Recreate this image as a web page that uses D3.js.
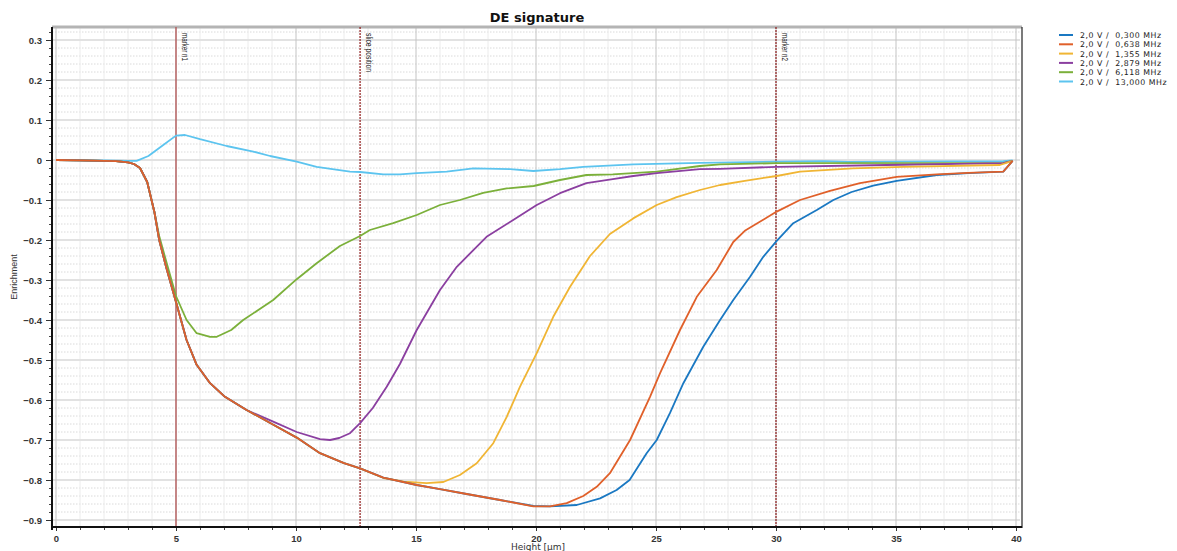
<!DOCTYPE html>
<html>
<head>
<meta charset="utf-8">
<script src="https://cdn.jsdelivr.net/npm/d3@7"></script>
<style>
  html, body { margin: 0; padding: 0; background: #fff; }
  svg { display: block; font-family: "DejaVu Sans", Verdana, sans-serif; }
</style>
</head>
<body>
<svg id="chart" width="1177" height="551"></svg>
<script>
// Enrichment profiles along the height axis, one series per drive frequency.
const seriesNames = [
  "2,0 V /  0,300 MHz",
  "2,0 V /  0,638 MHz",
  "2,0 V /  1,355 MHz",
  "2,0 V /  2,879 MHz",
  "2,0 V /  6,118 MHz",
  "2,0 V /  13,000 MHz"
];
const seriesColors = ["#1a78c2", "#e0602a", "#f0b534", "#8b3fa0", "#7bb03a", "#5cc4ef"];

// [height µm, enrichment]
const f0300 = [
  [0,0],[1,-0.001],[2,-0.002],[2.5,-0.003],[3,-0.006],[3.25,-0.01],[3.5,-0.02],[3.8,-0.055],
  [4.1,-0.13],[4.3,-0.2],[4.6,-0.27],[5,-0.355],[5.44,-0.45],[5.86,-0.512],[6.42,-0.558],
  [7.04,-0.592],[7.94,-0.625],[9,-0.66],[10.03,-0.694],[11,-0.733],[12,-0.758],[12.67,-0.771],
  [13.64,-0.794],[15.03,-0.8125],[16,-0.823],[17.11,-0.835],[18.5,-0.85],[19.89,-0.865],
  [20.58,-0.866],[21.7,-0.8625],[22.67,-0.846],[23.36,-0.825],[23.9,-0.80],[24.61,-0.733],
  [25.03,-0.70],[25.58,-0.633],[26.14,-0.558],[26.97,-0.467],[27.67,-0.40],[28.22,-0.35],
  [28.92,-0.292],[29.47,-0.242],[30.03,-0.202],[30.72,-0.158],[31.7,-0.125],[32.39,-0.10],
  [33.15,-0.08],[34.05,-0.064],[35.03,-0.052],[36.7,-0.0375],[38,-0.033],[39.47,-0.029],[39.86,-0.002]
];
const f0638 = [
  [0,0],[1,-0.001],[2,-0.002],[2.5,-0.003],[3,-0.006],[3.25,-0.01],[3.5,-0.02],[3.8,-0.055],
  [4.1,-0.13],[4.3,-0.2],[4.6,-0.27],[5,-0.355],[5.44,-0.45],[5.86,-0.512],[6.42,-0.558],
  [7.04,-0.592],[7.94,-0.625],[9,-0.66],[10.03,-0.694],[11,-0.733],[12,-0.758],[12.67,-0.771],
  [13.64,-0.794],[15.03,-0.8125],[16,-0.823],[17.11,-0.835],[18.5,-0.85],[19.89,-0.866],
  [20.58,-0.866],[21.28,-0.858],[21.97,-0.84],[22.53,-0.817],[23.08,-0.783],[23.92,-0.70],
  [24.75,-0.592],[25.17,-0.533],[26,-0.425],[26.7,-0.342],[27.53,-0.275],[28.22,-0.205],
  [28.7,-0.177],[30.03,-0.129],[31,-0.10],[32.25,-0.077],[33.5,-0.058],[35.03,-0.042],
  [36.7,-0.036],[38,-0.032],[39.47,-0.029],[39.86,-0.002]
];
const f1355 = [
  [0,0],[1,-0.001],[2,-0.002],[2.5,-0.003],[3,-0.006],[3.25,-0.01],[3.5,-0.02],[3.8,-0.055],
  [4.1,-0.13],[4.3,-0.2],[4.6,-0.27],[5,-0.355],[5.44,-0.45],[5.86,-0.512],[6.42,-0.558],
  [7.04,-0.592],[7.94,-0.625],[9,-0.66],[10.03,-0.694],[11,-0.733],[12,-0.758],[12.67,-0.771],
  [13.64,-0.795],[14.5,-0.804],[15.44,-0.808],[16.14,-0.805],[16.83,-0.7875],[17.53,-0.758],
  [18.22,-0.708],[18.78,-0.642],[19.33,-0.567],[20.03,-0.483],[20.72,-0.392],[21.42,-0.317],
  [22.25,-0.24],[23.08,-0.185],[24.05,-0.146],[25.03,-0.1125],[25.86,-0.093],[26.83,-0.075],
  [27.67,-0.0625],[28.7,-0.052],[30.03,-0.04],[31,-0.029],[33.2,-0.021],[35.3,-0.017],
  [39.33,-0.0125],[39.86,-0.002]
];
const f2879 = [
  [0,0],[1,-0.001],[2,-0.002],[2.5,-0.003],[3,-0.006],[3.25,-0.01],[3.5,-0.02],[3.8,-0.055],
  [4.1,-0.13],[4.3,-0.2],[4.6,-0.27],[5,-0.355],[5.44,-0.45],[5.86,-0.512],[6.42,-0.558],
  [7.04,-0.592],[7.94,-0.625],[9.05,-0.654],[10.03,-0.68],[11,-0.698],[11.42,-0.70],
  [11.8,-0.695],[12.25,-0.683],[12.67,-0.658],[13.2,-0.62],[13.78,-0.567],[14.33,-0.51],
  [15.03,-0.425],[16,-0.325],[16.7,-0.267],[17.94,-0.192],[19.05,-0.15],[20.03,-0.1125],
  [21,-0.083],[22.1,-0.058],[23.2,-0.048],[24.05,-0.04],[25.03,-0.033],[26.83,-0.023],
  [27.67,-0.022],[30.03,-0.017],[34.6,-0.0125],[39.47,-0.008],[39.86,-0.002]
];
const f6118 = [
  [0,0],[1,-0.001],[2,-0.002],[2.5,-0.003],[3,-0.006],[3.25,-0.01],[3.5,-0.02],[3.8,-0.055],
  [4.1,-0.13],[4.3,-0.19],[4.6,-0.255],[5,-0.34],[5.44,-0.40],[5.86,-0.433],[6.42,-0.442],
  [6.7,-0.442],[7.3,-0.425],[7.8,-0.40],[9.05,-0.35],[10.03,-0.298],[10.86,-0.258],
  [11.83,-0.215],[12.67,-0.19],[13.08,-0.175],[14.05,-0.158],[15.03,-0.1375],[16,-0.1125],
  [16.83,-0.10],[17.8,-0.082],[18.78,-0.071],[19.9,-0.065],[21,-0.05],[22.1,-0.0375],
  [23.2,-0.036],[25.03,-0.029],[26.83,-0.015],[27.67,-0.011],[30.03,-0.008],[39.47,-0.007],
  [39.86,-0.002]
];
const f13000 = [
  [0.2,0],[1,-0.001],[2,-0.001],[3,-0.002],[3.36,-0.002],[3.85,0.01],[4.47,0.0375],[5,0.061],
  [5.375,0.0625],[6,0.052],[7.11,0.035],[8.22,0.021],[8.92,0.01],[10.03,-0.004],[10.86,-0.017],
  [12.25,-0.029],[12.67,-0.03],[13.64,-0.036],[14.33,-0.036],[15.03,-0.033],[16.28,-0.029],
  [17.39,-0.021],[18.92,-0.023],[19.89,-0.0275],[21,-0.023],[21.97,-0.017],[24.05,-0.011],
  [26.83,-0.007],[30,-0.004],[32,-0.003],[33,-0.005],[35,-0.004],[39.47,-0.003],[39.86,-0.001]
];
const seriesData = [f0300, f0638, f1355, f2879, f6118, f13000];

// Vertical markers
const markerNames = ["marker n1", "slice position", "marker n2"];
const markerX = [5, 12.67, 30];

const xTicks = [0, 5, 10, 15, 20, 25, 30, 35, 40];
const yTicks = [0.3, 0.2, 0.1, 0, -0.1, -0.2, -0.3, -0.4, -0.5, -0.6, -0.7, -0.8, -0.9];

const svg = d3.select("#chart");
const pLeft = 52, pRight = 1020, pTop = 27, pBottom = 527;

const x = d3.scaleLinear().domain([-1/6, 40 + 1/6]).range([pLeft, pRight]);
const y = d3.scaleLinear().domain([-0.9175, 0.3325]).range([pBottom, pTop]);

const grid = svg.append("g");
// horizontal minor grid (dotted) every 0.02
const yMinor = d3.range(-90, 34, 2).filter(v => v % 10 !== 0).map(v => v / 100);
grid.selectAll(".hmin").data(yMinor).enter().append("line")
  .attr("x1", pLeft).attr("x2", pRight)
  .attr("y1", d => y(d)).attr("y2", d => y(d))
  .attr("stroke", "#dadada").attr("stroke-width", 1).attr("stroke-dasharray", "1.5,1.5");
// vertical minor grid every 1
const xMinor = d3.range(0, 41).filter(v => v % 5 !== 0);
grid.selectAll(".vmin").data(xMinor).enter().append("line")
  .attr("x1", d => x(d)).attr("x2", d => x(d))
  .attr("y1", pTop).attr("y2", pBottom)
  .attr("stroke", "#ececec").attr("stroke-width", 1);
// horizontal major grid
grid.selectAll(".hmaj").data(yTicks).enter().append("line")
  .attr("x1", pLeft).attr("x2", pRight)
  .attr("y1", d => y(d)).attr("y2", d => y(d))
  .attr("stroke", "#e2e2e2").attr("stroke-width", 2);
// vertical major grid
grid.selectAll(".vmaj").data(xTicks).enter().append("line")
  .attr("x1", d => x(d)).attr("x2", d => x(d))
  .attr("y1", pTop).attr("y2", pBottom)
  .attr("stroke", "#c4c4c4").attr("stroke-width", 1);

// frame
svg.append("line").attr("x1", pLeft).attr("x2", pRight + 2).attr("y1", pTop).attr("y2", pTop)
  .attr("stroke", "#b4b4b4").attr("stroke-width", 3);
svg.append("line").attr("x1", pRight + 2).attr("x2", pRight + 2).attr("y1", pTop).attr("y2", pBottom + 1)
  .attr("stroke", "#222").attr("stroke-width", 1.2);

// markers
const mk = svg.append("g");
markerX.forEach((mx, i) => {
  mk.append("line").attr("x1", x(mx)).attr("x2", x(mx)).attr("y1", pTop).attr("y2", pBottom)
    .attr("stroke", i === 0 ? "#b24a4a" : "#8e1a1a").attr("stroke-width", 1.2)
    .attr("stroke-dasharray", i === 0 ? null : "2,1");
  mk.append("text")
    .attr("transform", `translate(${x(mx) + 6},${pTop + 6}) rotate(90)`)
    .attr("font-family", "'Liberation Sans Narrow', 'Liberation Sans', sans-serif")
    .attr("font-size", 9.5).attr("fill", "#222")
    .attr("textLength", i === 1 ? 39 : 28).attr("lengthAdjust", "spacingAndGlyphs")
    .text(markerNames[i]);
});

// series
const line = d3.line().x(d => x(d[0])).y(d => y(d[1]));
const plot = svg.append("g");
[5, 4, 3, 2, 0, 1].forEach(i => {
  plot.append("path").datum(seriesData[i])
    .attr("fill", "none").attr("stroke", seriesColors[i])
    .attr("stroke-width", 1.8).attr("stroke-linejoin", "round")
    .attr("d", line);
});

// y axis
const yAxis = svg.append("g").attr("transform", `translate(${pLeft},0)`)
  .call(d3.axisLeft(y).tickValues(yTicks).tickSize(6).tickPadding(4)
    .tickFormat(d => d === 0 ? "0" : d3.format(".1f")(d)));
yAxis.select(".domain").remove();
yAxis.selectAll(".tick line").attr("stroke", "#333");
yAxis.selectAll("text").attr("font-size", 9.5).attr("fill", "#333").attr("font-weight", "bold");
svg.append("g").attr("transform", `translate(${pLeft},0)`)
  .call(d3.axisLeft(y).tickValues(yMinor).tickSize(3).tickFormat(""))
  .call(g => g.select(".domain").remove())
  .selectAll("line").attr("stroke", "#444");
svg.append("line").attr("x1", pLeft).attr("x2", pLeft).attr("y1", pTop).attr("y2", pBottom + 3)
  .attr("stroke", "#111").attr("stroke-width", 2);

// x axis
const xAxis = svg.append("g").attr("transform", `translate(0,${pBottom})`)
  .call(d3.axisBottom(x).tickValues(xTicks).tickSize(4).tickPadding(4).tickFormat(d3.format("d")));
xAxis.select(".domain").remove();
xAxis.selectAll(".tick line").attr("stroke", "#333");
xAxis.selectAll("text").attr("font-size", 9.5).attr("fill", "#333").attr("font-weight", "bold");
svg.append("g").attr("transform", `translate(0,${pBottom})`)
  .call(d3.axisBottom(x).tickValues(xMinor).tickSize(3).tickFormat(""))
  .call(g => g.select(".domain").remove())
  .selectAll("line").attr("stroke", "#444");
svg.append("line").attr("x1", pLeft).attr("x2", pRight + 2).attr("y1", pBottom).attr("y2", pBottom)
  .attr("stroke", "#111").attr("stroke-width", 2);

// titles
svg.append("text").attr("x", 537).attr("y", 22).attr("text-anchor", "middle")
  .attr("font-size", 13).attr("font-weight", "bold").attr("fill", "#111").text("DE signature");
svg.append("text").attr("x", 538).attr("y", 550).attr("text-anchor", "middle")
  .attr("font-size", 9).attr("fill", "#333").text("Height [µm]");
svg.append("text").attr("transform", "translate(17,277) rotate(-90)").attr("text-anchor", "middle")
  .attr("font-family", "'Liberation Sans Narrow', 'Liberation Sans', sans-serif")
  .attr("font-size", 9).attr("fill", "#333").text("Enrichment");

// legend
const legend = svg.append("g").attr("transform", "translate(1059,35)");
seriesNames.forEach((name, i) => {
  const g = legend.append("g").attr("transform", `translate(0,${i * 9.3})`);
  g.append("line").attr("x1", 0).attr("x2", 14).attr("y1", 0).attr("y2", 0)
    .attr("stroke", seriesColors[i]).attr("stroke-width", 2);
  g.append("text").attr("x", 21).attr("y", 3).attr("font-size", 7.8).attr("fill", "#222")
    .attr("letter-spacing", 0.55)
    .style("white-space", "pre").text(name);
});
</script>
</body>
</html>
